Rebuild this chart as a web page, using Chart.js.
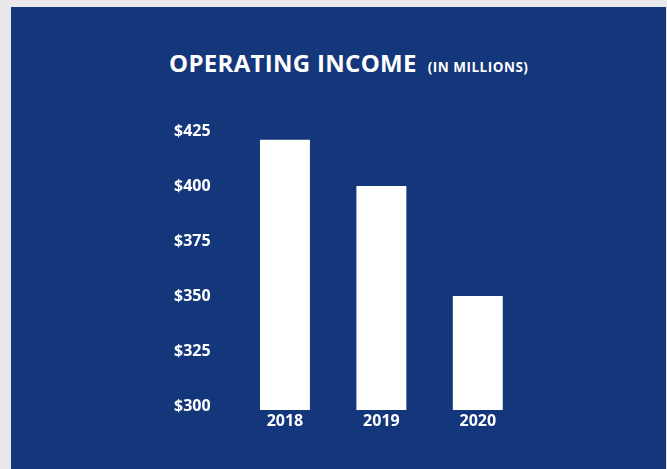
<!DOCTYPE html>
<html>
<head>
<meta charset="utf-8">
<script src="https://cdn.jsdelivr.net/npm/chart.js@4/dist/chart.umd.min.js"></script>
<style>
  html, body { margin: 0; padding: 0; }
  body { width: 667px; height: 469px; background: #e9e9eb; position: relative; overflow: hidden; }
  #panel { position: absolute; left: 11px; top: 7px; width: 655px; height: 462px; background: #14367b; }
  #title { position: absolute; left: 158px; top: 39px; white-space: nowrap; color: #ffffff;
           font-family: "Open Sans", "Noto Sans", sans-serif; font-weight: 700; }
  #title .main { font-size: 24px; letter-spacing: 0.3px; }
  #title .sub { font-size: 13.5px; margin-left: 11px; letter-spacing: 0.5px; }
  #chartWrap { position: absolute; left: 0; top: 0; width: 655px; height: 462px; }
  canvas { display: block; }
</style>
</head>
<body>
<div id="panel">
  <div id="title"><span class="main">OPERATING INCOME</span><span class="sub">(IN MILLIONS)</span></div>
  <div id="chartWrap"><canvas id="chart" width="655" height="462"></canvas></div>
</div>
<script>
// Operating income by year, in millions of dollars
const years = ['2018', '2019', '2020'];
const operatingIncome = [421, 400, 350];
const tickValues = [300, 325, 350, 375, 400, 425];

const white = '#ffffff';
const tickFont = { family: '"Open Sans", "Noto Sans", sans-serif', size: 16, weight: '700' };

new Chart(document.getElementById('chart'), {
  type: 'bar',
  data: {
    labels: years,
    datasets: [{
      data: operatingIncome,
      backgroundColor: white,
      borderWidth: 0,
      barPercentage: 0.518,
      categoryPercentage: 1.0
    }]
  },
  options: {
    responsive: false,
    animation: false,
    maintainAspectRatio: false,
    devicePixelRatio: 1,
    layout: { padding: { left: 163, right: 140, top: 113, bottom: 29 } },
    plugins: { legend: { display: false }, tooltip: { enabled: false } },
    scales: {
      x: {
        grid: { display: false, drawTicks: false },
        border: { display: false },
        ticks: { color: white, font: tickFont, padding: 2 },
        afterFit: (scale) => { scale.height = 30; }
      },
      y: {
        min: 298.2,
        max: 430,
        grid: { display: false, drawTicks: false },
        border: { display: false },
        afterBuildTicks: (scale) => { scale.ticks = tickValues.map(v => ({ value: v })); },
        ticks: {
          color: white,
          font: tickFont,
          crossAlign: 'far',
          callback: (v) => '$' + v
        },
        afterFit: (scale) => { scale.width = 62.75; }
      }
    }
  }
});
</script>
</body>
</html>
